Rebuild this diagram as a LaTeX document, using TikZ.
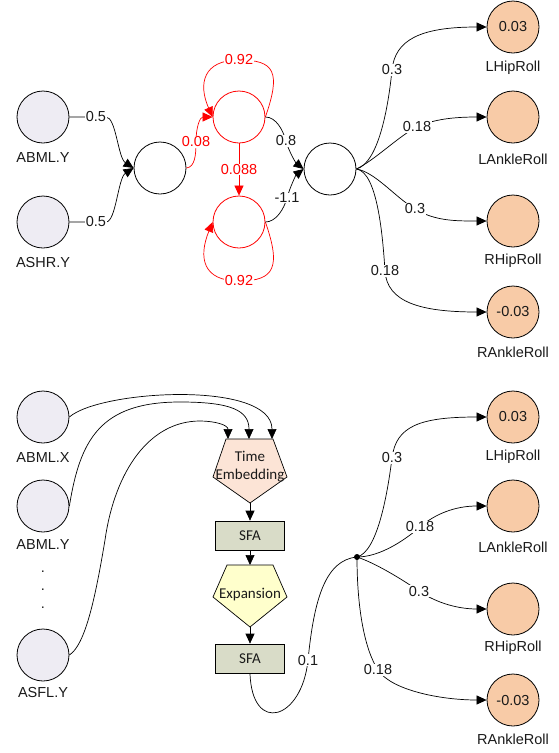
\documentclass[tikz,border=0pt]{standalone}
\usepackage{fontspec}
\setmainfont{Liberation Sans}
\newfontfamily\calfont{Carlito}
\usetikzlibrary{arrows.meta}
\definecolor{inputc}{HTML}{EEECF3}
\definecolor{outc}{HTML}{F8CBA7}
\definecolor{tec}{HTML}{FCE4D6}
\definecolor{sfac}{HTML}{D9DCC8}
\definecolor{expc}{HTML}{FFFFCC}
\definecolor{txt}{HTML}{1A1A1A}
\begin{document}
\begin{tikzpicture}[x=1pt,y=-1pt,
  neuron/.style={circle,draw,line width=0.8pt,minimum size=52pt,inner sep=0pt,text=txt,font=\fontsize{14.5}{16}\selectfont},
  inp/.style={neuron,fill=inputc},
  outp/.style={neuron,fill=outc},
  hid/.style={neuron,fill=white},
  rhid/.style={neuron,draw=red,fill=white},
  nm/.style={text=txt,font=\fontsize{14.5}{16}\selectfont,inner sep=1pt},
  wlab/.style={fill=white,inner sep=0.5pt,text=txt,font=\fontsize{14.5}{16}\selectfont},
  rlab/.style={wlab,text=red},
  ln/.style={line width=0.7pt},
  conn/.style={ln,-{Triangle[length=10pt,width=9pt]}},
  rconn/.style={conn,red},
  boxtxt/.style={text=txt,font=\calfont\fontsize{15}{18}\selectfont,align=center,inner sep=0pt},
  sfa/.style={draw,line width=0.7pt,fill=sfac,minimum width=69pt,minimum height=29pt,boxtxt},
  pent/.style={draw,line width=0.7pt}
]
\useasboundingbox (0,0) rectangle (558,753);

% ---------------- top network ----------------
\node[inp] (a1) at (43,117) {};
\node[nm] (a1l) at (43,158) {ABML.Y};
\node[inp] (a2) at (43,222) {};
\node[nm] (a2l) at (43,263) {ASHR.Y};

\node[hid] (h1) at (160,168) {};
\node[rhid] (ru) at (239,117) {};
\node[rhid] (rl) at (239,222) {};
\node[hid] (h3) at (330,169) {};

\node[outp] (o1) at (513,27) {0.03};
\node[nm] (o1l) at (513,68) {LHipRoll};
\node[outp] (o2) at (513,117) {};
\node[nm] (o2l) at (513,159) {LAnkleRoll};
\node[outp] (o3) at (513,221) {};
\node[nm] (o3l) at (513,261) {RHipRoll};
\node[outp] (o4) at (513,312) {-0.03};
\node[nm] (o4l) at (513,352) {RAnkleRoll};

\draw[conn] (a1.east) -- (85,117) node[wlab,pos=1,anchor=west] {0.5} (106,117)
  .. controls (116,117) and (118,158) .. (h1.west);
\draw[conn] (a2.east) -- (85,222) node[wlab,pos=1,anchor=west] {0.5} (106,222)
  .. controls (116,222) and (118,178) .. (h1.west);

\draw[rconn] (h1.east) .. controls (195,167) and (196,155) .. (196,142) node[rlab] {0.08}
  .. controls (196,127) and (200,117) .. (ru.west);
\draw[rconn] (ru.south) -- (rl.north) node[rlab,midway] {0.088};
% self loops
\draw[rconn] (ru.east) .. controls (281,72) and (275,60) .. (239,60) node[rlab] {0.92}
  .. controls (203,60) and (198,84) .. (ru.west);
\draw[rconn] (rl.east) .. controls (281,267) and (275,281) .. (239,281) node[rlab] {0.92}
  .. controls (203,281) and (198,258) .. (rl.west);

\draw[conn] (ru.east) .. controls (276,117) and (283,130) .. (286,141) node[wlab] {0.8}
  .. controls (289,152) and (296,163) .. (h3.west);
\draw[conn] (rl.east) .. controls (276,222) and (284,209) .. (287,198) node[wlab] {-1.1}
  .. controls (290,187) and (296,175) .. (h3.west);

\draw[conn] (h3.east) .. controls (378,163) and (388,110) .. (392,70) node[wlab] {0.3}
  .. controls (395,40) and (420,27) .. (o1.west);
\draw[conn] (h3.east) .. controls (375,160) and (400,135) .. (417,127) node[wlab] {0.18}
  .. controls (434,119) and (455,117) .. (o2.west);
\draw[conn] (h3.east) .. controls (375,172) and (395,197) .. (415,209) node[wlab] {0.3}
  .. controls (435,221) and (455,221) .. (o3.west);
\draw[conn] (h3.east) .. controls (378,172) and (383,240) .. (385,271) node[wlab] {0.18}
  .. controls (387,302) and (420,312) .. (o4.west);

% ---------------- bottom network ----------------
\node[inp] (bx) at (43,417) {};
\node[nm] (bxl) at (43,458) {ABML.X};
\node[inp] (by) at (43,506) {};
\node[nm] (byl) at (43,545) {ABML.Y};
\node[nm] (d1) at (43,572) {.};
\node[nm] (d2) at (43,590) {.};
\node[nm] (d3) at (43,608) {.};
\node[inp] (bs) at (43,655) {};
\node[nm] (bsl) at (43,692) {ASFL.Y};

% Time Embedding pentagon
\draw[pent,fill=tec] (226,439) -- (273,439) -- (287,477) -- (250,503) -- (213,477) -- cycle;
\node[boxtxt] (te) at (250,467) {Time\\Embedding};
\coordinate (tin1) at (228,439);
\coordinate (tin2) at (249,439);
\coordinate (tin3) at (272,439);
\coordinate (tebot) at (250,503);

\node[sfa] (s1) at (250,535.5) {SFA};

% Expansion pentagon
\draw[pent,fill=expc] (227,565) -- (273,565) -- (287,597) -- (250,627) -- (213,597) -- cycle;
\node[boxtxt] (ex) at (250,595) {Expansion};
\coordinate (extop) at (250,565);
\coordinate (exbot) at (250,627);

\node[sfa] (s2) at (250,658.5) {SFA};

\node[circle,fill=black,inner sep=0pt,minimum size=6pt] (j) at (357,557) {};

\node[outp] (p1) at (513,417) {0.03};
\node[nm] (p1l) at (513,457) {LHipRoll};
\node[outp] (p2) at (513,506) {};
\node[nm] (p2l) at (513,547) {LAnkleRoll};
\node[outp] (p3) at (513,609) {};
\node[nm] (p3l) at (513,648) {RHipRoll};
\node[outp] (p4) at (513,700) {-0.03};
\node[nm] (p4l) at (513,739) {RAnkleRoll};

\draw[conn] (bx.east) .. controls (100,390) and (272,380) .. (tin3);
\draw[conn] (by.east) .. controls (80,440) and (100,402) .. (180,402)
  .. controls (230,402) and (249,410) .. (tin2);
\draw[conn] (bs.east) .. controls (85,645) and (95,600) .. (105,540)
  .. controls (115,470) and (150,421) .. (200,421)
  .. controls (215,421) and (228,425) .. (tin1);

\draw[conn] (tebot) -- (s1.north);
\draw[conn] (s1.south) -- (extop);
\draw[conn] (exbot) -- (s2.north);

\draw[ln] (s2.south) .. controls (252,735) and (302,720) .. (308,660) node[wlab] {0.1}
  .. controls (314,600) and (325,560) .. (j.center);

\draw[conn] (j.center) .. controls (378,552) and (388,490) .. (392,458) node[wlab] {0.3}
  .. controls (396,426) and (420,417) .. (p1.west);
\draw[conn] (j.center) .. controls (380,557) and (405,540) .. (420,527) node[wlab] {0.18}
  .. controls (435,514) and (455,506) .. (p2.west);
\draw[conn] (j.center) .. controls (375,563) and (400,578) .. (419,591) node[wlab] {0.3}
  .. controls (438,604) and (460,609) .. (p3.west);
\draw[conn] (j.center) .. controls (357,610) and (365,650) .. (378,670) node[wlab] {0.18}
  .. controls (391,690) and (440,700) .. (p4.west);
\end{tikzpicture}
\end{document}
